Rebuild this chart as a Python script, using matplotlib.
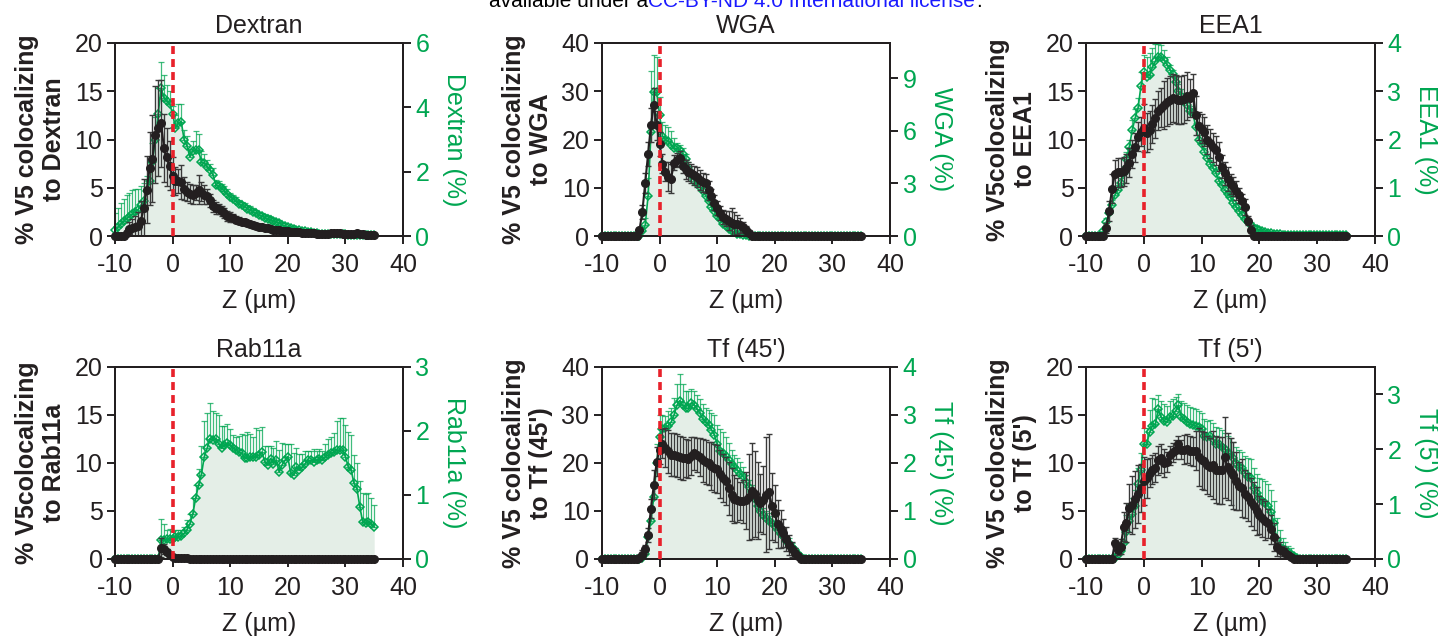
import numpy as np
import matplotlib
matplotlib.use("Agg")
import matplotlib.pyplot as plt

plt.rcParams['font.family'] = ['Liberation Sans', 'DejaVu Sans']
plt.rcParams['axes.unicode_minus'] = False

INK = '#231f20'
GREEN = '#00a651'
FILL = '#e4eee7'
RED = '#e8212b'

# Z position of each optical section (um), one value every 0.5 um
z_um = np.arange(-10, 35.5, 0.5)

# ---- Dextran ----
dex_v5 = [0, 0, 0, 0.05, 0.3, 0.7, 0.8, 0.9, 1.0, 1.6,
          2.9, 4.8, 7.0, 8.0, 10.5, 11.2, 11.7, 9.1, 8.2, 7.3,
          6.2, 5.7, 5.7, 5.6, 4.9, 4.6, 4.4, 4.3, 4.5, 4.8,
          4.6, 4.3, 4.1, 3.7, 3.1, 2.9, 2.8, 2.6, 2.4, 2.1,
          2.0, 1.85, 1.7, 1.6, 1.5, 1.4, 1.3, 1.2, 1.1, 1.0,
          0.95, 0.9, 0.85, 0.8, 0.72, 0.66, 0.62, 0.58, 0.55, 0.52,
          0.5, 0.45, 0.42, 0.4, 0.37, 0.35, 0.33, 0.3, 0.28, 0.26,
          0.24, 0.23, 0.22, 0.22, 0.25, 0.28, 0.3, 0.35, 0.3, 0.25,
          0.22, 0.2, 0.2, 0.25, 0.28, 0.22, 0.18, 0.15, 0.12, 0.1,
          0.1]
dex_v5_sd = [0, 0, 0, 0, 0.2, 0.8, 1.0, 1.2, 1.5, 2.0,
             3.0, 3.5, 3.8, 4.5, 5.0, 5.0, 4.5, 3.5, 3.0, 2.5,
             2.0, 1.5, 1.2, 1.8, 1.2, 1.0, 1.0, 1.0, 0.8, 1.5,
             1.0, 1.0, 0.8, 0.7, 0.6, 0.6, 0.5, 0.5, 0.5, 0.5,
             0.5, 0.4, 0.4, 0.4, 0.3, 0.3, 0.3, 0.3, 0.3, 0.3,
             0.3, 0.2, 0.2, 0.2, 0.2, 0.2, 0.2, 0.2, 0.2, 0.2] + [0.15] * 31
dex_mk = [0.2, 0.28, 0.38, 0.46, 0.54, 0.6, 0.68, 0.75, 0.82, 0.95,
          1.1, 1.4, 1.7, 2.3, 3.0, 3.8, 4.6, 4.3, 4.2, 4.1,
          3.8, 3.35, 3.5, 3.55, 3.0, 2.8, 2.46, 2.65, 2.67, 2.67,
          2.3, 2.26, 2.15, 2.05, 1.9, 1.6, 1.55, 1.48, 1.4, 1.3,
          1.22, 1.15, 1.08, 1.0, 0.95, 0.9, 0.85, 0.8, 0.75, 0.7,
          0.66, 0.62, 0.57, 0.54, 0.5, 0.47, 0.44, 0.4, 0.35, 0.3,
          0.27, 0.24, 0.21, 0.2, 0.18, 0.17, 0.15, 0.13, 0.11, 0.09,
          0.08, 0.07, 0.07, 0.06, 0.06, 0.06, 0.05, 0.05, 0.05, 0.05,
          0.05, 0.04, 0.04, 0.04, 0.04, 0.04, 0.03, 0.03, 0.03, 0.03,
          0.03]
dex_mk_sd = [0.5, 0.6, 0.65, 0.7, 0.75, 0.75, 0.75, 0.7, 0.65, 0.6,
             0.55, 0.45, 0.5, 0.6, 0.7, 0.8, 0.8, 0.7, 0.5, 0.4,
             0.25, 0.4, 0.6, 0.55, 0.3, 0.3, 0.25, 0.3, 0.6, 0.5,
             0.35, 0.3, 0.2, 0.2, 0.2, 0.15, 0.15, 0.15, 0.15, 0.15] + [0.12] * 10 + [0.1] * 10 + [0.05] * 31

# ---- WGA ----
wga_v5 = [0] * 10 + [
          0, 0, 0, 1.2, 5.0, 11.0, 17.0, 23.0, 27.2, 23.0,
          19.0, 15.0, 13.3, 12.3, 11.9, 15.2, 15.7, 16.1, 14.5, 13.8,
          13.3, 13.0, 12.6, 12.2, 11.6, 11.1, 10.9, 9.5, 8.2, 6.9,
          5.8, 4.8, 3.95, 3.6, 3.2, 2.7, 2.4, 2.4, 2.2, 1.9,
          1.3, 0.6, 0, 0, 0, 0, 0, 0, 0, 0] + [0] * 31
wga_v5_sd = [0] * 10 + [
             0, 0, 0, 0.5, 1.5, 2.0, 2.5, 3.5, 3.5, 3.0,
             2.5, 2.0, 2.0, 3.0, 3.0, 1.5, 1.5, 1.5, 1.5, 2.0,
             2.0, 2.0, 2.0, 2.0, 2.0, 2.0, 2.0, 2.0, 1.5, 1.5,
             1.5, 1.5, 1.5, 1.5, 2.0, 3.0, 2.5, 2.0, 1.5, 1.0,
             0.8, 0.4, 0, 0, 0, 0, 0, 0, 0, 0] + [0] * 31
wga_mk = [0] * 10 + [
          0, 0, 0, 0, 0.3, 0.6, 2.3, 5.9, 8.2, 8.2,
          6.9, 5.7, 5.5, 5.4, 5.2, 5.0, 5.0, 4.9, 4.7, 4.4,
          3.9, 3.45, 3.15, 2.95, 2.8, 2.55, 2.3, 2.0, 1.65, 1.4,
          1.15, 0.95, 0.7, 0.55, 0.4, 0.28, 0.2, 0.14, 0.09, 0.06,
          0.04, 0.02, 0, 0, 0, 0, 0, 0, 0, 0] + [0] * 31
wga_mk_sd = [0] * 10 + [
             0, 0, 0, 0, 0.2, 0.4, 1.0, 3.5, 2.1, 2.0,
             1.0, 0.8, 0.8, 0.8, 0.8, 0.6, 0.3, 0.3, 0.3, 0.3,
             0.3, 0.3, 0.3, 0.3, 0.25, 0.25, 0.2, 0.2, 0.2, 0.2,
             0.2, 0.15, 0.15, 0.1, 0.1, 0.1, 0.1, 0.05, 0.05, 0.05,
             0.05, 0.05, 0, 0, 0, 0, 0, 0, 0, 0] + [0] * 31

# ---- EEA1 ----
eea_v5 = [0, 0, 0, 0, 0, 0, 0, 0.8, 2.6, 4.9,
          6.4, 6.6, 6.6, 6.7, 7.0, 7.6, 8.5, 9.2, 10.3, 10.8,
          11.2, 10.7, 11.0, 11.6, 12.2, 13.0, 13.3, 13.6, 13.9, 14.1,
          14.3, 14.2, 14.1, 14.1, 14.2, 14.5, 14.3, 14.8, 12.5, 11.4,
          11.1, 10.8, 10.0, 9.6, 9.2, 8.9, 8.2, 7.2, 6.5, 5.9,
          5.4, 5.15, 4.7, 4.2, 3.6, 3.0, 1.6, 0.6, 0, 0] + [0] * 31
eea_v5_sd = [0, 0, 0, 0, 0, 0, 0, 0.5, 1.0, 1.5,
             1.5, 1.5, 1.5, 1.5, 1.5, 1.5, 1.5, 1.5, 1.5, 1.5,
             2.5, 2.0, 2.0, 2.0, 2.0, 2.0, 2.0, 2.5, 2.5, 2.5,
             2.5, 2.5, 2.5, 2.5, 2.5, 2.5, 2.0, 2.0, 2.0, 1.5,
             1.5, 1.5, 1.5, 1.5, 1.5, 1.5, 1.5, 1.2, 1.2, 1.2,
             1.0, 1.0, 1.0, 0.8, 0.8, 0.8, 0.5, 0.5, 0, 0] + [0] * 31
eea_mk = [0, 0, 0, 0, 0, 0, 0.1, 0.28, 0.48, 0.65,
          0.85, 0.95, 1.1, 1.3, 1.6, 1.85, 2.2, 2.44, 2.65, 3.1,
          3.4, 3.3, 3.34, 3.5, 3.62, 3.72, 3.7, 3.65, 3.55, 3.45,
          3.35, 3.2, 3.0, 2.9, 2.82, 2.72, 2.6, 2.54, 2.25, 2.0,
          1.9, 1.75, 1.62, 1.5, 1.4, 1.3, 1.15, 1.05, 0.95, 0.88,
          0.8, 0.68, 0.6, 0.52, 0.44, 0.36, 0.28, 0.22, 0.17, 0.14,
          0.12, 0.1, 0.08, 0.07, 0.06, 0.05, 0.05, 0.04, 0.03, 0.03] + [0.02] * 21
eea_mk_sd = [0, 0, 0, 0, 0, 0, 0.05, 0.1, 0.1, 0.1,
             0.1, 0.1, 0.1, 0.15, 0.15, 0.15, 0.2, 0.2, 0.2, 0.3,
             0.35, 0.4, 0.45, 0.4, 0.35, 0.25, 0.25, 0.2, 0.15, 0.1,
             0.1, 0.1, 0.15, 0.15, 0.15, 0.1, 0.1, 0.1, 0.1, 0.1] + [0.08] * 10 + [0.06] * 10 + [0.03] * 31

# ---- Rab11a ----
rab_v5 = [0] * 10 + [
          0, 0, 0, 0, 0, 0, 1.18, 1.07, 0.76, 0.45,
          0.2, 0.15, 0.12, 0.1, 0.08, 0.06, 0.05, 0.04, 0.03, 0.02] + [0.01] * 61
rab_v5_sd = [0] * 10 + [
             0, 0, 0, 0, 0, 0, 1.0, 0.5, 0.3, 0.2,
             0.1, 0.1, 0.05, 0.05, 0.05, 0, 0, 0, 0, 0] + [0] * 61
rab_mk = [0] * 10 + [
          0, 0, 0, 0, 0, 0, 0.3, 0.3, 0.31, 0.32,
          0.32, 0.35, 0.35, 0.36, 0.4, 0.46, 0.55, 0.7, 0.95, 1.15,
          1.32, 1.6, 1.73, 1.88, 1.86, 1.88, 1.8, 1.73, 1.78, 1.81,
          1.78, 1.73, 1.7, 1.67, 1.65, 1.58, 1.58, 1.6, 1.6, 1.6,
          1.62, 1.67, 1.52, 1.47, 1.57, 1.49, 1.54, 1.36, 1.47, 1.54,
          1.6, 1.34, 1.31, 1.44, 1.39, 1.44, 1.49, 1.54, 1.54, 1.52,
          1.54, 1.57, 1.54, 1.6, 1.62, 1.65, 1.67, 1.7, 1.7, 1.7,
          1.6, 1.44, 1.39, 1.18, 1.1, 0.82, 0.58, 0.57, 0.58, 0.55,
          0.5]
rab_mk_sd = [0] * 10 + [
             0, 0, 0, 0, 0, 0, 0.33, 0.25, 0.15, 0.15,
             0.12, 0.1, 0.1, 0.1, 0.1, 0.15, 0.15, 0.25, 0.2, 0.25,
             0.45, 0.55, 0.55, 0.55, 0.45, 0.4, 0.45, 0.35, 0.3, 0.3,
             0.25, 0.2, 0.2, 0.25, 0.3, 0.35, 0.4, 0.35, 0.3, 0.45,
             0.4, 0.4, 0.25, 0.3, 0.2, 0.25, 0.3, 0.35, 0.35, 0.25,
             0.2, 0.45, 0.35, 0.3, 0.25, 0.2, 0.2, 0.15, 0.15, 0.2,
             0.15, 0.15, 0.15, 0.2, 0.25, 0.25, 0.3, 0.45, 0.5, 0.5,
             0.5, 0.55, 0.55, 0.45, 0.4, 0.4, 0.45, 0.45, 0.45, 0.4,
             0.35]

# ---- Tf (45') ----
tf45_v5 = [0] * 10 + [
           0, 0, 0, 0.3, 0.8, 2.0, 5.0, 10.5, 15.5, 20.3,
           22.8, 24.0, 23.2, 22.4, 21.7, 21.7, 21.5, 21.2, 21.0, 21.0,
           20.8, 21.4, 22.0, 21.7, 21.2, 20.6, 20.2, 19.9, 19.3, 19.0,
           18.7, 17.8, 16.8, 16.2, 14.7, 13.4, 12.6, 12.3, 12.1, 12.0,
           12.2, 12.9, 14.1, 13.5, 12.2, 11.7, 12.3, 13.4, 14.0, 11.0,
           9.5, 7.2, 6.3, 5.4, 4.2, 2.9, 2.0, 1.2, 0.6, 0.1] + [0] * 21
tf45_v5_sd = [0] * 10 + [
              0, 0, 0, 0.3, 1.0, 1.0, 1.5, 2.0, 3.0, 3.0,
              3.0, 3.0, 4.0, 4.5, 4.5, 4.5, 4.5, 4.5, 4.5, 4.0,
              4.0, 4.0, 3.5, 3.5, 4.0, 4.5, 4.5, 4.5, 5.0, 5.0,
              5.0, 5.0, 5.0, 5.0, 5.5, 5.5, 5.0, 4.5, 4.0, 4.5,
              6.0, 9.0, 10.0, 9.0, 8.0, 6.0, 7.0, 12.0, 12.0, 7.0,
              6.0, 5.0, 4.0, 3.0, 2.5, 2.0, 1.5, 1.0, 0.5, 0.2] + [0] * 21
tf45_mk = [0] * 10 + [
           0, 0, 0, 0, 0.02, 0.1, 0.45, 0.8, 1.3, 2.0,
           2.55, 2.7, 2.73, 2.78, 2.85, 3.0, 3.2, 3.3, 3.2, 3.14,
           3.14, 3.25, 3.21, 3.12, 3.04, 2.92, 2.85, 2.8, 2.69, 2.59,
           2.4, 2.25, 2.2, 2.15, 2.07, 1.98, 1.92, 1.85, 1.78, 1.72,
           1.6, 1.5, 1.4, 1.25, 1.1, 1.0, 0.92, 0.86, 0.8, 0.75,
           0.68, 0.6, 0.53, 0.47, 0.38, 0.34, 0.25, 0.18, 0.1, 0.05,
           0.01] + [0] * 20
tf45_mk_sd = [0] * 10 + [
              0, 0, 0, 0, 0, 0.05, 0.1, 0.2, 0.2, 0.4,
              0.45, 0.3, 0.25, 0.3, 0.3, 0.35, 0.45, 0.55, 0.45, 0.35,
              0.35, 0.3, 0.3, 0.3, 0.3, 0.3, 0.3, 0.3, 0.35, 0.4,
              0.4, 0.45, 0.45, 0.4, 0.35, 0.3, 0.25, 0.25, 0.25, 0.2] + [0.15] * 10 + [
              0.12, 0.12, 0.12, 0.1, 0.1, 0.1, 0.08, 0.05, 0.05, 0.03] + [0] * 21

# ---- Tf (5') ----
tf5_v5 = [0] * 10 + [
          1.7, 0.94, 1.28, 3.36, 3.8, 5.3, 5.6, 6.2, 6.8, 7.4,
          8.1, 8.4, 9.0, 9.3, 9.5, 10.3, 10.5, 10.0, 10.1, 10.8,
          11.1, 11.4, 12.0, 11.4, 11.4, 11.5, 11.3, 11.2, 11.3, 10.6,
          10.3, 10.2, 9.8, 9.6, 9.8, 9.3, 9.25, 9.25, 10.6, 9.6,
          9.1, 8.7, 8.1, 7.6, 7.4, 6.8, 6.5, 5.9, 5.5, 5.0,
          4.6, 4.3, 4.0, 3.7, 3.1, 2.3, 1.3, 0.94, 0.85, 0.65,
          0.4, 0.24, 0.02, 0, 0, 0, 0, 0, 0, 0] + [0] * 11
tf5_v5_sd = [0] * 10 + [
             0.5, 0.5, 0.8, 1.5, 2.0, 2.5, 3.0, 3.0, 3.0, 2.5,
             2.5, 2.0, 1.5, 1.5, 1.5, 1.5, 1.5, 1.5, 1.0, 1.0,
             1.0, 1.0, 0.8, 1.0, 1.5, 1.5, 1.5, 1.5, 2.0, 3.0,
             3.0, 3.0, 3.0, 3.0, 3.5, 3.5, 3.5, 3.5, 4.2, 3.5,
             3.5, 3.5, 3.0, 2.5, 3.0, 2.5, 2.5, 2.5, 2.5, 2.5,
             2.0, 2.0, 2.0, 1.5, 1.5, 1.5, 1.0, 0.8, 0.5, 0.5,
             0.3, 0.2, 0, 0, 0, 0, 0, 0, 0, 0] + [0] * 11
tf5_mk = [0] * 10 + [
          0.02, 0.07, 0.15, 0.3, 0.5, 0.7, 0.82, 0.96, 1.36, 1.63,
          2.09, 2.09, 2.31, 2.43, 2.46, 2.74, 2.58, 2.52, 2.49, 2.58,
          2.61, 2.7, 2.8, 2.58, 2.55, 2.5, 2.47, 2.45, 2.43, 2.4,
          2.37, 2.25, 2.22, 2.24, 2.18, 2.1, 2.09, 2.05, 2.0, 1.94,
          1.91, 1.84, 1.75, 1.68, 1.65, 1.57, 1.5, 1.48, 1.3, 1.2,
          1.12, 1.06, 1.02, 0.97, 0.86, 0.65, 0.35, 0.22, 0.19, 0.16,
          0.13, 0.1, 0.05, 0.01, 0, 0, 0, 0, 0, 0] + [0] * 11
tf5_mk_sd = [0] * 10 + [
             0.05, 0.1, 0.15, 0.25, 0.3, 0.3, 0.3, 0.3, 0.3, 0.3,
             0.3, 0.3, 0.4, 0.5, 0.45, 0.25, 0.3, 0.3, 0.3, 0.3,
             0.3, 0.25, 0.2, 0.3, 0.3, 0.3, 0.3, 0.3, 0.3, 0.3,
             0.3, 0.3, 0.3, 0.3, 0.3, 0.3, 0.3, 0.3, 0.3, 0.3,
             0.3, 0.3, 0.3, 0.3, 0.3, 0.3, 0.35, 0.35, 0.35, 0.35,
             0.35, 0.4, 0.4, 0.4, 0.4, 0.4, 0.4, 0.3, 0.2, 0.15,
             0.1, 0.1, 0.05, 0.02, 0, 0, 0, 0, 0, 0] + [0] * 11

fig = plt.figure(figsize=(14.38, 6.39), dpi=100)


def draw_panel(rect, title, left_label, right_label, v5, v5_sd, mk, mk_sd,
               left_max, left_step, right_max, right_step):
    ax = fig.add_axes(rect)
    ax2 = ax.twinx()
    ax.set_zorder(ax2.get_zorder() + 1)
    ax.patch.set_visible(False)

    # marker channel on the right axis (green)
    mk = np.array(mk)
    ax2.fill_between(z_um, 0, mk, color=FILL, lw=0, zorder=1)
    ax2.errorbar(z_um, mk, yerr=[np.zeros(len(mk)), mk_sd], fmt='none',
                 ecolor=GREEN, elinewidth=0.9, capsize=2.5, capthick=0.9,
                 alpha=0.75, zorder=2)
    ax2.plot(z_um, mk, color=GREEN, lw=1.2, marker='D', ms=4, mfc='none',
             mec=GREEN, mew=1.1, zorder=3, clip_on=False)

    # V5 channel on the left axis (black)
    ax.errorbar(z_um, v5, yerr=v5_sd, fmt='none', ecolor='#3a3a3a',
                elinewidth=1.0, capsize=2.5, capthick=1.0, zorder=2)
    ax.plot(z_um, v5, color=INK, lw=1.5, marker='o', ms=5.5, mfc=INK,
            mec=INK, zorder=3, clip_on=False)
    ax.axvline(0, color=RED, lw=2.6, ls=(0, (2.2, 1.4)), zorder=5)

    ax.set_xlim(-10, 40)
    ax.set_ylim(0, left_max)
    ax2.set_ylim(0, right_max)
    ax.set_xticks(range(-10, 41, 10))
    ax.set_yticks(np.arange(0, left_max + 0.1, left_step))
    ax2.set_yticks(np.arange(0, right_max + 0.01, right_step))

    for a in (ax, ax2):
        for s in a.spines.values():
            s.set_linewidth(1.4)
            s.set_color(INK)
    ax.tick_params(axis='both', direction='out', length=6, width=1.4,
                   labelsize=18, colors=INK, pad=3)
    ax.tick_params(axis='x', pad=6)
    ax2.tick_params(axis='y', direction='out', length=6, width=1.4,
                    labelsize=18, color=INK, labelcolor=GREEN, pad=3)

    ax.set_title(title, fontsize=18, color=INK, pad=7)
    ax.set_xlabel('Z (µm)', fontsize=18, color=INK, labelpad=9)
    ax.set_ylabel(left_label, fontsize=18, fontweight='bold', color=INK,
                  labelpad=6, linespacing=1.15)
    ax2.set_ylabel(right_label, fontsize=18, color=GREEN, rotation=270,
                   va='bottom', labelpad=9)


W, H = 1438, 639


def rect(left, top, right, bottom):
    return [left / W, 1 - bottom / H, (right - left) / W, (bottom - top) / H]


draw_panel(rect(115, 43, 403, 236), 'Dextran', '% V5 colocalizing\nto Dextran',
           'Dextran (%)', dex_v5, dex_v5_sd, dex_mk, dex_mk_sd, 20, 5, 6, 2)
draw_panel(rect(602, 43, 890, 236), 'WGA', '% V5 colocalizing\nto WGA',
           'WGA (%)', wga_v5, wga_v5_sd, wga_mk, wga_mk_sd, 40, 10, 11, 3)
draw_panel(rect(1086, 43, 1375, 236), 'EEA1', '% V5colocalizing\nto EEA1',
           'EEA1 (%)', eea_v5, eea_v5_sd, eea_mk, eea_mk_sd, 20, 5, 4, 1)
draw_panel(rect(115, 367, 403, 559), 'Rab11a', '% V5colocalizing\nto Rab11a',
           'Rab11a (%)', rab_v5, rab_v5_sd, rab_mk, rab_mk_sd, 20, 5, 3, 1)
draw_panel(rect(602, 367, 890, 559), "Tf (45')", "% V5 colocalizing\nto Tf (45')",
           "Tf (45') (%)", tf45_v5, tf45_v5_sd, tf45_mk, tf45_mk_sd, 40, 10, 4, 1)
draw_panel(rect(1086, 367, 1375, 559), "Tf (5')", "% V5 colocalizing\nto Tf (5')",
           "Tf (5') (%)", tf5_v5, tf5_v5_sd, tf5_mk, tf5_mk_sd, 20, 5, 3.5, 1)

# licence line at the top edge of the page (cut off there, as in the source)
base_y = 1 - 7 / H
fig.text(648 / W, base_y, 'available under a', ha='right', va='baseline',
         fontsize=15, color='black')
fig.text(648 / W, base_y, 'CC-BY-ND 4.0 International license', ha='left',
         va='baseline', fontsize=15, color='#1a1aff')
fig.text(976 / W, base_y, '.', ha='left', va='baseline', fontsize=15,
         color='black')

fig.savefig('out.png', dpi=100)
